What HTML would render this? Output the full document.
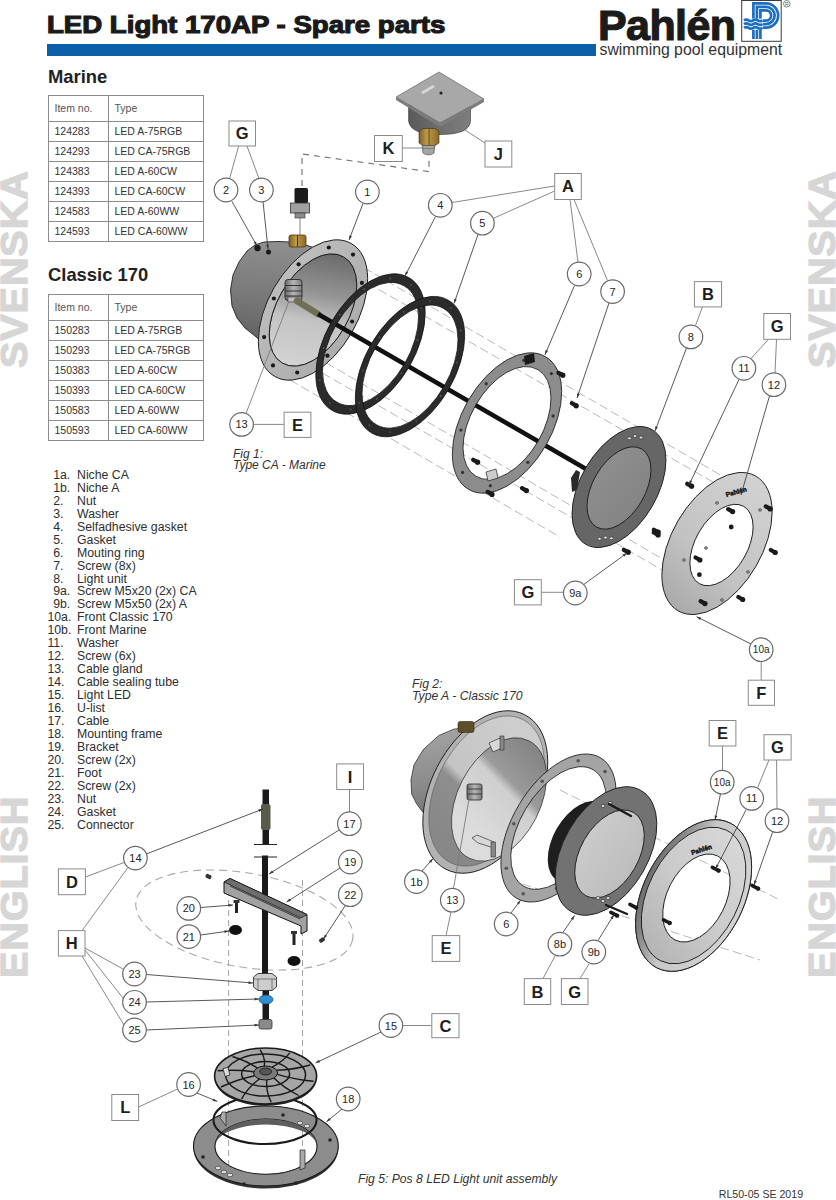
<!DOCTYPE html>
<html><head><meta charset="utf-8">
<style>
html,body{margin:0;padding:0;background:#fff;}
body{width:836px;height:1200px;position:relative;overflow:hidden;font-family:"Liberation Sans",sans-serif;color:#2a2a2a;}
.a{position:absolute;white-space:nowrap;}
#title{left:46.5px;top:9.8px;font-size:23px;font-weight:bold;color:#1a1a1a;transform-origin:0 0;transform:scaleX(1.2);-webkit-text-stroke:1.1px #1a1a1a;line-height:30px;}
#bar{left:47px;top:44px;width:549px;height:11.5px;background:#0b60a9;}
#pahlen{left:598px;top:0px;font-size:43px;font-weight:bold;color:#1b1b1b;-webkit-text-stroke:1.2px #1b1b1b;line-height:50px;letter-spacing:-0.6px;}
#swim{left:599.5px;top:39.5px;font-size:15.8px;color:#333;line-height:20px;}
h2{position:absolute;margin:0;font-size:18.4px;font-weight:bold;color:#222;line-height:20px;left:48px;}
table{position:absolute;border-collapse:collapse;left:47.5px;width:156px;}
td{border:1px solid #8c8c8c;font-size:10.5px;color:#333;padding:0 0 0 6px;height:19px;line-height:19px;}
tr.h td{height:25px;color:#555;}
td.c1{width:53px;}
.side{position:absolute;font-weight:bold;font-size:36px;color:#d6d6d6;-webkit-text-stroke:1.3px #d6d6d6;transform-origin:0 0;transform:rotate(-90deg) scaleX(1.1);line-height:40px;letter-spacing:0.8px;}
.li{position:absolute;font-size:12.3px;line-height:13px;color:#2e2e2e;white-space:nowrap;}
.cap{position:absolute;font-size:12px;font-style:italic;color:#333;line-height:12px;white-space:nowrap;}
svg{position:absolute;left:0;top:0;}
</style></head><body>
<div id="title" class="a">LED Light 170AP - Spare parts</div>
<div id="bar" class="a"></div>
<div id="pahlen" class="a">Pahlén</div>
<div id="swim" class="a">swimming pool equipment</div>

<h2 style="top:66.8px">Marine</h2>
<table style="top:95px">
<tr class="h"><td class="c1">Item no.</td><td>Type</td></tr>
<tr><td class="c1">124283</td><td>LED A-75RGB</td></tr>
<tr><td class="c1">124293</td><td>LED CA-75RGB</td></tr>
<tr><td class="c1">124383</td><td>LED A-60CW</td></tr>
<tr><td class="c1">124393</td><td>LED CA-60CW</td></tr>
<tr><td class="c1">124583</td><td>LED A-60WW</td></tr>
<tr><td class="c1">124593</td><td>LED CA-60WW</td></tr>
</table>

<h2 style="top:264.8px">Classic 170</h2>
<table style="top:294px">
<tr class="h"><td class="c1">Item no.</td><td>Type</td></tr>
<tr><td class="c1">150283</td><td>LED A-75RGB</td></tr>
<tr><td class="c1">150293</td><td>LED CA-75RGB</td></tr>
<tr><td class="c1">150383</td><td>LED A-60CW</td></tr>
<tr><td class="c1">150393</td><td>LED CA-60CW</td></tr>
<tr><td class="c1">150583</td><td>LED A-60WW</td></tr>
<tr><td class="c1">150593</td><td>LED CA-60WW</td></tr>
</table>

<div class="side" style="left:-5px;top:367.5px">SVENSKA</div>
<div class="side" style="left:803px;top:367.5px">SVENSKA</div>
<div class="side" style="left:-5px;top:977.5px">ENGLISH</div>
<div class="side" style="left:803px;top:977.5px">ENGLISH</div>

<!--LIST-->
<div class="li" style="left:53.2px;top:468.7px">1a.</div><div class="li" style="left:77px;top:468.7px">Niche CA</div>
<div class="li" style="left:53.2px;top:481.7px">1b.</div><div class="li" style="left:77px;top:481.7px">Niche A</div>
<div class="li" style="left:53.2px;top:494.6px">2.</div><div class="li" style="left:77px;top:494.6px">Nut</div>
<div class="li" style="left:53.2px;top:507.6px">3.</div><div class="li" style="left:77px;top:507.6px">Washer</div>
<div class="li" style="left:53.2px;top:520.6px">4.</div><div class="li" style="left:77px;top:520.6px">Selfadhesive gasket</div>
<div class="li" style="left:53.2px;top:533.5px">5.</div><div class="li" style="left:77px;top:533.5px">Gasket</div>
<div class="li" style="left:53.2px;top:546.5px">6.</div><div class="li" style="left:77px;top:546.5px">Mouting ring</div>
<div class="li" style="left:53.2px;top:559.5px">7.</div><div class="li" style="left:77px;top:559.5px">Screw (8x)</div>
<div class="li" style="left:53.2px;top:572.5px">8.</div><div class="li" style="left:77px;top:572.5px">Light unit</div>
<div class="li" style="left:53.2px;top:585.4px">9a.</div><div class="li" style="left:77px;top:585.4px">Screw M5x20 (2x) CA</div>
<div class="li" style="left:53.2px;top:598.4px">9b.</div><div class="li" style="left:77px;top:598.4px">Screw M5x50 (2x) A</div>
<div class="li" style="left:47.4px;top:611.4px">10a.</div><div class="li" style="left:77px;top:611.4px">Front Classic 170</div>
<div class="li" style="left:47.4px;top:624.3px">10b.</div><div class="li" style="left:77px;top:624.3px">Front Marine</div>
<div class="li" style="left:47.4px;top:637.3px">11.</div><div class="li" style="left:77px;top:637.3px">Washer</div>
<div class="li" style="left:47.4px;top:650.3px">12.</div><div class="li" style="left:77px;top:650.3px">Screw (6x)</div>
<div class="li" style="left:47.4px;top:663.3px">13.</div><div class="li" style="left:77px;top:663.3px">Cable gland</div>
<div class="li" style="left:47.4px;top:676.2px">14.</div><div class="li" style="left:77px;top:676.2px">Cable sealing tube</div>
<div class="li" style="left:47.4px;top:689.2px">15.</div><div class="li" style="left:77px;top:689.2px">Light LED</div>
<div class="li" style="left:47.4px;top:702.2px">16.</div><div class="li" style="left:77px;top:702.2px">U-list</div>
<div class="li" style="left:47.4px;top:715.1px">17.</div><div class="li" style="left:77px;top:715.1px">Cable</div>
<div class="li" style="left:47.4px;top:728.1px">18.</div><div class="li" style="left:77px;top:728.1px">Mounting frame</div>
<div class="li" style="left:47.4px;top:741.1px">19.</div><div class="li" style="left:77px;top:741.1px">Bracket</div>
<div class="li" style="left:47.4px;top:754.0px">20.</div><div class="li" style="left:77px;top:754.0px">Screw (2x)</div>
<div class="li" style="left:47.4px;top:767.0px">21.</div><div class="li" style="left:77px;top:767.0px">Foot</div>
<div class="li" style="left:47.4px;top:780.0px">22.</div><div class="li" style="left:77px;top:780.0px">Screw (2x)</div>
<div class="li" style="left:47.4px;top:792.9px">23.</div><div class="li" style="left:77px;top:792.9px">Nut</div>
<div class="li" style="left:47.4px;top:805.9px">24.</div><div class="li" style="left:77px;top:805.9px">Gasket</div>
<div class="li" style="left:47.4px;top:818.9px">25.</div><div class="li" style="left:77px;top:818.9px">Connector</div>
<!--/LIST-->

<div class="cap" style="left:233px;top:448.6px;line-height:11.8px">Fig 1:<br>Type CA - Marine</div>
<div class="cap" style="left:412px;top:679px;font-size:12.2px;line-height:11.8px">Fig 2:<br>Type A - Classic 170</div>
<div class="cap" style="left:358px;top:1173px;font-size:12.15px">Fig 5: Pos 8 LED Light unit assembly</div>
<div class="a" style="left:718.8px;top:1188.3px;font-size:10.6px;color:#333;">RL50-05 SE 2019</div>

<!--SVG-->
<svg width="836" height="1200" viewBox="0 0 836 1200" font-family="Liberation Sans, sans-serif"><defs>
<linearGradient id="gBody" x1="0.2" y1="0" x2="0.1" y2="1"><stop offset="0" stop-color="#8e8e8e"/><stop offset="0.5" stop-color="#787878"/><stop offset="1" stop-color="#5a5a5a"/></linearGradient>
<linearGradient id="gIn1" x1="0.55" y1="0" x2="0.4" y2="1"><stop offset="0" stop-color="#6e6e6e"/><stop offset="0.35" stop-color="#959595"/><stop offset="0.6" stop-color="#c4c4c4"/><stop offset="1" stop-color="#d2d2d2"/></linearGradient>
<linearGradient id="gFl" x1="0" y1="0" x2="1" y2="1"><stop offset="0" stop-color="#c4c4c4"/><stop offset="1" stop-color="#a6a6a6"/></linearGradient>
<linearGradient id="gFront" x1="0.8" y1="0" x2="0.1" y2="1"><stop offset="0" stop-color="#d2d2d2"/><stop offset="0.6" stop-color="#c2c2c2"/><stop offset="1" stop-color="#a8a8a8"/></linearGradient>
<linearGradient id="gLens" x1="0" y1="0" x2="1" y2="1"><stop offset="0" stop-color="#929292"/><stop offset="1" stop-color="#808080"/></linearGradient>
<linearGradient id="gBrass" x1="0" y1="0" x2="1" y2="0"><stop offset="0" stop-color="#7a6028"/><stop offset="0.4" stop-color="#c09a45"/><stop offset="1" stop-color="#8a6c2c"/></linearGradient>
<linearGradient id="gBody2" x1="0" y1="0" x2="0.2" y2="1"><stop offset="0" stop-color="#a8a8a8"/><stop offset="0.6" stop-color="#8c8c8c"/><stop offset="1" stop-color="#777"/></linearGradient>
<linearGradient id="gIn2" x1="0.85" y1="0.1" x2="0.3" y2="0.8"><stop offset="0" stop-color="#868686"/><stop offset="0.38" stop-color="#9a9a9a"/><stop offset="0.48" stop-color="#cfcfcf"/><stop offset="1" stop-color="#dcdcdc"/></linearGradient><linearGradient id="gFace2" x1="0.75" y1="0.1" x2="0.2" y2="0.85"><stop offset="0" stop-color="#cdcdcd"/><stop offset="0.55" stop-color="#c4c4c4"/><stop offset="0.63" stop-color="#8e8e8e"/><stop offset="1" stop-color="#888"/></linearGradient>
<linearGradient id="gFront2" x1="0.9" y1="0.1" x2="0" y2="0.9"><stop offset="0" stop-color="#d8d8d8"/><stop offset="0.5" stop-color="#cacaca"/><stop offset="1" stop-color="#b0b0b0"/></linearGradient>
<linearGradient id="gLens2" x1="0" y1="0" x2="1" y2="1"><stop offset="0" stop-color="#d0d0d0"/><stop offset="1" stop-color="#b8b8b8"/></linearGradient>
<linearGradient id="gRim" x1="0" y1="0.25" x2="0.8" y2="0.7"><stop offset="0" stop-color="#505050"/><stop offset="0.3" stop-color="#858585"/><stop offset="0.55" stop-color="#c8c8c8"/><stop offset="1" stop-color="#d2d2d2"/></linearGradient>
<linearGradient id="gJbody" x1="0" y1="0" x2="1" y2="0"><stop offset="0" stop-color="#5a5a5a"/><stop offset="0.5" stop-color="#6e6e6e"/><stop offset="1" stop-color="#7e7e7e"/></linearGradient>
<linearGradient id="gGland" x1="0" y1="0" x2="1" y2="0"><stop offset="0" stop-color="#6a6a6a"/><stop offset="0.5" stop-color="#b5b5b5"/><stop offset="1" stop-color="#7a7a7a"/></linearGradient>
</defs>
<line x1="330" y1="248" x2="760" y2="498" stroke="#b0b0b0" stroke-width="0.9" stroke-dasharray="9,4"/>
<line x1="300" y1="360" x2="700" y2="592" stroke="#b0b0b0" stroke-width="0.9" stroke-dasharray="9,4"/>
<line x1="270" y1="330" x2="690" y2="575" stroke="#b0b0b0" stroke-width="0.9" stroke-dasharray="9,4"/>
<line x1="345" y1="270" x2="770" y2="515" stroke="#b0b0b0" stroke-width="0.9" stroke-dasharray="9,4"/>
<line x1="290" y1="380" x2="560" y2="537" stroke="#b0b0b0" stroke-width="0.9" stroke-dasharray="9,4"/>
<path d="M300,243 L290,242 L278,241.5 L264,242 L255,245 L247,251 L239,262 L233,275 L230.5,290 L232,306 L237,318 L245,328 L255,336 L262,342 L300,352 L335,255Z" fill="url(#gBody)" stroke="#222" stroke-width="0.9" stroke-linejoin="round"/>
<path d="M343.66,256.90 A35.56,61.32 30 1,0 282.34,363.10 A35.56,61.32 30 1,0 343.66,256.90Z" fill="url(#gIn1)" stroke="#333" stroke-width="0.8" />
<path d="M351.32,243.62 A44.45,76.65 30 1,0 274.68,376.38 A44.45,76.65 30 1,0 351.32,243.62Z M343.66,256.90 A35.56,61.32 30 1,0 282.34,363.10 A35.56,61.32 30 1,0 343.66,256.90Z" fill="url(#gFl)" fill-rule="evenodd" stroke="#1e1e1e" stroke-width="1" />
<circle cx="353.0" cy="254.6" r="2.1" fill="#1a1a1a"/>
<circle cx="361.9" cy="282.9" r="2.1" fill="#1a1a1a"/>
<circle cx="352.1" cy="321.5" r="2.1" fill="#1a1a1a"/>
<circle cx="327.4" cy="355.7" r="2.1" fill="#1a1a1a"/>
<circle cx="297.2" cy="372.5" r="2.1" fill="#1a1a1a"/>
<circle cx="273.0" cy="365.4" r="2.1" fill="#1a1a1a"/>
<circle cx="264.1" cy="337.1" r="2.1" fill="#1a1a1a"/>
<circle cx="273.9" cy="298.5" r="2.1" fill="#1a1a1a"/>
<circle cx="298.6" cy="264.3" r="2.1" fill="#1a1a1a"/>
<circle cx="328.8" cy="247.5" r="2.1" fill="#1a1a1a"/>
<rect x="289" y="235" width="17" height="12" rx="2" fill="url(#gBrass)" stroke="#4a3a10" stroke-width="0.8"/>
<line x1="297.5" y1="235" x2="297.5" y2="247" stroke="#4a3a10" stroke-width="1"/>
<rect x="294.5" y="188" width="13.5" height="15" rx="1.5" fill="#1c1c1c"/>
<rect x="290.5" y="203" width="19" height="10" fill="#a0a0a0" stroke="#333" stroke-width="0.8"/>
<rect x="295" y="213" width="10" height="5" fill="#8a8a8a" stroke="#333" stroke-width="0.6"/>
<line x1="300" y1="218" x2="300" y2="235" stroke="#666" stroke-width="0.8" />
<circle cx="257.5" cy="248.0" r="3.2" fill="#1a1a1a"/>
<circle cx="268.5" cy="252.0" r="2.5" fill="#1a1a1a"/>
<rect x="285" y="279.5" width="17" height="21" rx="3" fill="url(#gGland)" stroke="#2a2a2a" stroke-width="0.9"/>
<path d="M285,285.5 H302 M285,291 H302 M285,296 H302" stroke="#333" stroke-width="1.1"/>
<rect x="288" y="297" width="10" height="5" fill="#bdbdbd" stroke="#333" stroke-width="0.6"/>
<line x1="297" y1="301" x2="318" y2="314" stroke="#6f6f55" stroke-width="6.5" stroke-linecap="round"/>
<line x1="318" y1="314" x2="586" y2="469" stroke="#111" stroke-width="4.5"/>
<path d="M408.82,277.62 A44.45,76.65 30 1,0 332.18,410.38 A44.45,76.65 30 1,0 408.82,277.62Z M404.07,285.85 A38.94,67.15 30 1,0 336.93,402.15 A38.94,67.15 30 1,0 404.07,285.85Z" fill="#2b2b2b" fill-rule="evenodd" stroke="#111" stroke-width="0.8" />
<path d="M448.32,300.22 A44.45,76.65 30 1,0 371.68,432.98 A44.45,76.65 30 1,0 448.32,300.22Z M443.57,308.45 A38.94,67.15 30 1,0 376.43,424.75 A38.94,67.15 30 1,0 443.57,308.45Z" fill="#2b2b2b" fill-rule="evenodd" stroke="#111" stroke-width="0.8" />
<circle cx="411.1" cy="285.2" r="0.9" fill="#5a5a5a"/>
<circle cx="421.1" cy="307.8" r="0.9" fill="#5a5a5a"/>
<circle cx="417.4" cy="340.0" r="0.9" fill="#5a5a5a"/>
<circle cx="401.3" cy="373.3" r="0.9" fill="#5a5a5a"/>
<circle cx="376.8" cy="398.8" r="0.9" fill="#5a5a5a"/>
<circle cx="350.7" cy="409.5" r="0.9" fill="#5a5a5a"/>
<circle cx="329.9" cy="402.8" r="0.9" fill="#5a5a5a"/>
<circle cx="319.9" cy="380.2" r="0.9" fill="#5a5a5a"/>
<circle cx="323.6" cy="348.0" r="0.9" fill="#5a5a5a"/>
<circle cx="339.7" cy="314.7" r="0.9" fill="#5a5a5a"/>
<circle cx="364.2" cy="289.2" r="0.9" fill="#5a5a5a"/>
<circle cx="390.3" cy="278.5" r="0.9" fill="#5a5a5a"/>
<circle cx="450.6" cy="307.8" r="0.9" fill="#5a5a5a"/>
<circle cx="460.6" cy="330.4" r="0.9" fill="#5a5a5a"/>
<circle cx="456.9" cy="362.6" r="0.9" fill="#5a5a5a"/>
<circle cx="440.8" cy="395.9" r="0.9" fill="#5a5a5a"/>
<circle cx="416.3" cy="421.4" r="0.9" fill="#5a5a5a"/>
<circle cx="390.2" cy="432.1" r="0.9" fill="#5a5a5a"/>
<circle cx="369.4" cy="425.4" r="0.9" fill="#5a5a5a"/>
<circle cx="359.4" cy="402.8" r="0.9" fill="#5a5a5a"/>
<circle cx="363.1" cy="370.6" r="0.9" fill="#5a5a5a"/>
<circle cx="379.2" cy="337.3" r="0.9" fill="#5a5a5a"/>
<circle cx="403.7" cy="311.8" r="0.9" fill="#5a5a5a"/>
<circle cx="429.8" cy="301.1" r="0.9" fill="#5a5a5a"/>
<path d="M545.32,356.62 A44.45,76.65 30 1,0 468.68,489.38 A44.45,76.65 30 1,0 545.32,356.62Z M537.82,369.61 A35.75,61.65 30 1,0 476.18,476.39 A35.75,61.65 30 1,0 537.82,369.61Z" fill="#8c8c8c" fill-rule="evenodd" stroke="#222" stroke-width="0.9" />
<circle cx="551.4" cy="373.6" r="1.6" fill="#333"/>
<circle cx="553.1" cy="415.9" r="1.6" fill="#333"/>
<circle cx="527.8" cy="462.3" r="1.6" fill="#333"/>
<circle cx="490.3" cy="485.7" r="1.6" fill="#333"/>
<circle cx="462.6" cy="472.4" r="1.6" fill="#333"/>
<circle cx="460.9" cy="430.1" r="1.6" fill="#333"/>
<circle cx="486.2" cy="383.7" r="1.6" fill="#333"/>
<circle cx="523.7" cy="360.3" r="1.6" fill="#333"/>
<path d="M652.12,429.63 A38.42,66.24 30 1,0 585.88,544.37 A38.42,66.24 30 1,0 652.12,429.63Z" fill="#666" stroke="#222" stroke-width="1" />
<path d="M641.56,448.93 A26.16,45.11 30 1,0 596.44,527.07 A26.16,45.11 30 1,0 641.56,448.93Z" fill="url(#gLens)" stroke="#222" stroke-width="1" />
<ellipse cx="629.4" cy="438.3" rx="1.9" ry="1.5" fill="#ddd" stroke="#222" stroke-width="0.6"/>
<ellipse cx="635" cy="436" rx="1.9" ry="1.5" fill="#ddd" stroke="#222" stroke-width="0.6"/>
<ellipse cx="641" cy="437.5" rx="1.9" ry="1.5" fill="#ddd" stroke="#222" stroke-width="0.6"/>
<ellipse cx="599.5" cy="538.8" rx="1.9" ry="1.5" fill="#ddd" stroke="#222" stroke-width="0.6"/>
<ellipse cx="605.5" cy="537.6" rx="1.9" ry="1.5" fill="#ddd" stroke="#222" stroke-width="0.6"/>
<ellipse cx="611.4" cy="538.3" rx="1.9" ry="1.5" fill="#ddd" stroke="#222" stroke-width="0.6"/>
<path d="M571,478 L576,470 L580,472 L577,490 L572,492 Z" fill="#2a2a2a"/>
<path d="M755.87,476.17 A45.09,77.74 30 1,0 678.13,610.83 A45.09,77.74 30 1,0 755.87,476.17Z M743.78,506.41 A25.85,44.56 30 1,0 699.22,583.59 A25.85,44.56 30 1,0 743.78,506.41Z" fill="url(#gFront)" fill-rule="evenodd" stroke="#222" stroke-width="1" />
<ellipse cx="717" cy="503" rx="1.6" ry="1.4" fill="#888" stroke="#444" stroke-width="0.5"/>
<ellipse cx="760" cy="510" rx="1.6" ry="1.4" fill="#888" stroke="#444" stroke-width="0.5"/>
<ellipse cx="706" cy="548" rx="1.6" ry="1.4" fill="#888" stroke="#444" stroke-width="0.5"/>
<ellipse cx="684" cy="560" rx="1.6" ry="1.4" fill="#888" stroke="#444" stroke-width="0.5"/>
<ellipse cx="748" cy="572" rx="1.6" ry="1.4" fill="#888" stroke="#444" stroke-width="0.5"/>
<ellipse cx="722" cy="600" rx="1.6" ry="1.4" fill="#888" stroke="#444" stroke-width="0.5"/>
<text x="0" y="0" font-size="6.5" font-weight="bold" fill="#1a1a1a" transform="translate(726.5,497) rotate(-16)" stroke="#1a1a1a" stroke-width="0.5">Pahlén</text>
<line x1="558.4" y1="372.8" x2="562.8" y2="375.2" stroke="#1a1a1a" stroke-width="4.2" stroke-linecap="round"/>
<circle cx="562.8" cy="375.2" r="2.6" fill="#1a1a1a"/>
<line x1="571.8" y1="403.2" x2="576.2" y2="405.8" stroke="#1a1a1a" stroke-width="4.2" stroke-linecap="round"/>
<circle cx="576.2" cy="405.8" r="2.6" fill="#1a1a1a"/>
<line x1="473.2" y1="459.8" x2="477.6" y2="462.2" stroke="#1a1a1a" stroke-width="4.2" stroke-linecap="round"/>
<circle cx="477.6" cy="462.2" r="2.6" fill="#1a1a1a"/>
<line x1="522.0" y1="488.1" x2="526.4" y2="490.6" stroke="#1a1a1a" stroke-width="4.2" stroke-linecap="round"/>
<circle cx="526.4" cy="490.6" r="2.6" fill="#1a1a1a"/>
<line x1="487.6" y1="491.9" x2="492.0" y2="494.4" stroke="#1a1a1a" stroke-width="4.2" stroke-linecap="round"/>
<circle cx="492.0" cy="494.4" r="2.6" fill="#1a1a1a"/>
<line x1="623.8" y1="549.8" x2="628.2" y2="552.2" stroke="#1a1a1a" stroke-width="4.2" stroke-linecap="round"/>
<circle cx="628.2" cy="552.2" r="2.6" fill="#1a1a1a"/>
<line x1="653.8" y1="529.8" x2="658.2" y2="532.2" stroke="#1a1a1a" stroke-width="4.2" stroke-linecap="round"/>
<circle cx="658.2" cy="532.2" r="2.6" fill="#1a1a1a"/>
<line x1="687.2" y1="483.8" x2="691.6" y2="486.2" stroke="#1a1a1a" stroke-width="4.2" stroke-linecap="round"/>
<circle cx="691.6" cy="486.2" r="2.6" fill="#1a1a1a"/>
<line x1="728.2" y1="509.1" x2="732.6" y2="511.6" stroke="#1a1a1a" stroke-width="4.2" stroke-linecap="round"/>
<circle cx="732.6" cy="511.6" r="2.6" fill="#1a1a1a"/>
<line x1="765.8" y1="506.4" x2="770.2" y2="508.9" stroke="#1a1a1a" stroke-width="4.2" stroke-linecap="round"/>
<circle cx="770.2" cy="508.9" r="2.6" fill="#1a1a1a"/>
<line x1="770.8" y1="550.0" x2="775.2" y2="552.5" stroke="#1a1a1a" stroke-width="4.2" stroke-linecap="round"/>
<circle cx="775.2" cy="552.5" r="2.6" fill="#1a1a1a"/>
<line x1="695.5" y1="557.5" x2="699.9" y2="560.0" stroke="#1a1a1a" stroke-width="4.2" stroke-linecap="round"/>
<circle cx="699.9" cy="560.0" r="2.6" fill="#1a1a1a"/>
<line x1="700.6" y1="601.1" x2="705.0" y2="603.6" stroke="#1a1a1a" stroke-width="4.2" stroke-linecap="round"/>
<circle cx="705.0" cy="603.6" r="2.6" fill="#1a1a1a"/>
<line x1="738.3" y1="597.0" x2="742.7" y2="599.5" stroke="#1a1a1a" stroke-width="4.2" stroke-linecap="round"/>
<circle cx="742.7" cy="599.5" r="2.6" fill="#1a1a1a"/>
<line x1="653.7" y1="532.5" x2="658.1" y2="535.0" stroke="#1a1a1a" stroke-width="4.2" stroke-linecap="round"/>
<circle cx="658.1" cy="535.0" r="2.6" fill="#1a1a1a"/>
<circle cx="731.2" cy="527.0" r="2.4" fill="#1a1a1a"/>
<circle cx="699.4" cy="574.7" r="2.4" fill="#1a1a1a"/>
<path d="M524,356 L534,353 L535,362 L525,365 Z" fill="#1a1a1a"/>
<path d="M486,472 L496,469 L498,478 L488,481 Z" fill="#ccc" stroke="#222" stroke-width="0.7"/>
<path d="M408.6,104 L408.6,121 Q410,134.5 440,134.5 Q470,134.5 470.5,121 L470.5,104 Z" fill="url(#gJbody)" stroke="#333" stroke-width="0.6"/>
<path d="M396,97 L439,72 L484,99 L440,123 Z" fill="#a8a8a8" stroke="#555" stroke-width="0.6"/>
<path d="M396,97 L440,123 L484,99 L484,102 L440,127 L396,100 Z" fill="#7c7c7c"/>
<path d="M421,92 L433,85 L435,87 L423,94 Z" fill="#d8d8d8"/>
<circle cx="441.0" cy="93.0" r="1.6" fill="#222"/>
<path d="M419,131 L423,128.5 L435,128.5 L439,131 L439,143 L435,145.5 L423,145.5 L419,143 Z" fill="url(#gBrass)" stroke="#3a2a10" stroke-width="0.6"/>
<line x1="429" y1="129" x2="429" y2="145" stroke="#4a3a18" stroke-width="0.8"/>
<path d="M422,145.5 L435,145.5 L434,153 Q428.5,157 423,153 Z" fill="#a4a4a4" stroke="#444" stroke-width="0.6"/>
<line x1="422.5" y1="148.5" x2="434.5" y2="148.5" stroke="#666" stroke-width="0.6"/>
<path d="M302,186 L302,154 L429,171.6 L429,156" fill="none" stroke="#777" stroke-width="1.2" stroke-dasharray="6,5"/>
<line x1="560" y1="790" x2="780" y2="900" stroke="#b0b0b0" stroke-width="0.9" stroke-dasharray="9,4"/>
<line x1="510" y1="880" x2="760" y2="960" stroke="#b0b0b0" stroke-width="0.9" stroke-dasharray="9,4"/>
<path d="M470,727 L453.6,729.2 L438.5,735.7 L423.3,749.6 L414,764.8 L411,780 L411.7,794 L416.3,803.3 L422.2,811.5 L430,818 L470,800 L490,735Z" fill="url(#gBody2)" stroke="#333" stroke-width="0.8" stroke-linejoin="round"/>
<path d="M524.65,714.76 A53.75,86.69 27 1,0 445.95,869.24 A53.75,86.69 27 1,0 524.65,714.76Z" fill="#b2b2b2" stroke="#222" stroke-width="1" />
<path d="M522.90,719.55 A49.72,80.19 27 1,0 450.10,862.45 A49.72,80.19 27 1,0 522.90,719.55Z" fill="url(#gFace2)" stroke="#555" stroke-width="0.6" />
<path d="M528.88,740.86 A40.81,65.82 27 1,0 469.12,858.14 A40.81,65.82 27 1,0 528.88,740.86Z" fill="url(#gIn2)" stroke="#333" stroke-width="0.8" />
<rect x="458" y="721.5" width="16" height="11" rx="2" fill="#5e4e2a" stroke="#3a2a10" stroke-width="0.6"/>
<rect x="467" y="784" width="15" height="16" rx="2" fill="url(#gGland)" stroke="#2a2a2a" stroke-width="0.8"/>
<line x1="467" y1="789" x2="482" y2="789" stroke="#333" stroke-width="0.9"/><line x1="467" y1="794" x2="482" y2="794" stroke="#333" stroke-width="0.9"/>
<path d="M489,743 L500,738 L502,748 L493,752 Z" fill="#d8d8d8" stroke="#333" stroke-width="0.7"/><rect x="500" y="736" width="4" height="14" fill="#888" stroke="#333" stroke-width="0.6"/>
<path d="M472,838 L477,835 L494,842 L494,848 L478,843 Z" fill="#d8d8d8" stroke="#333" stroke-width="0.7"/><rect x="491" y="842" width="4.5" height="15" fill="#888" stroke="#333" stroke-width="0.6"/>
<path d="M600.64,757.86 A45.82,81.82 31 1,0 516.36,898.14 A45.82,81.82 31 1,0 600.64,757.86Z M593.43,769.86 A37.98,67.82 31 1,0 523.57,886.14 A37.98,67.82 31 1,0 593.43,769.86Z" fill="#a4a4a4" fill-rule="evenodd" stroke="#222" stroke-width="0.9" />
<circle cx="605.0" cy="771.6" r="1.8" fill="#555"/>
<circle cx="610.0" cy="808.9" r="1.8" fill="#555"/>
<circle cx="590.9" cy="855.1" r="1.8" fill="#555"/>
<circle cx="556.6" cy="888.6" r="1.8" fill="#555"/>
<circle cx="523.2" cy="893.8" r="1.8" fill="#555"/>
<circle cx="506.3" cy="868.2" r="1.8" fill="#555"/>
<circle cx="513.8" cy="823.8" r="1.8" fill="#555"/>
<circle cx="542.2" cy="781.3" r="1.8" fill="#555"/>
<circle cx="578.2" cy="760.8" r="1.8" fill="#555"/>
<path d="M602.37,803.26 A26.84,44.73 30 1,0 557.63,880.74 A26.84,44.73 30 1,0 602.37,803.26Z" fill="#1e1e1e" stroke="none" stroke-width="0.8" />
<path d="M640.91,790.53 A41.90,69.83 30 1,0 571.09,911.47 A41.90,69.83 30 1,0 640.91,790.53Z" fill="#727272" stroke="#222" stroke-width="1" />
<path d="M633.50,812.42 A28.80,48.01 30 1,0 585.50,895.58 A28.80,48.01 30 1,0 633.50,812.42Z" fill="url(#gLens2)" stroke="#222" stroke-width="1" />
<ellipse cx="603" cy="806" rx="1.9" ry="1.6" fill="#ddd" stroke="#222" stroke-width="0.6"/>
<ellipse cx="610" cy="803" rx="1.9" ry="1.6" fill="#ddd" stroke="#222" stroke-width="0.6"/>
<ellipse cx="598" cy="898" rx="1.9" ry="1.6" fill="#ddd" stroke="#222" stroke-width="0.6"/>
<ellipse cx="603" cy="901" rx="1.9" ry="1.6" fill="#ddd" stroke="#222" stroke-width="0.6"/>
<ellipse cx="608" cy="898" rx="1.9" ry="1.6" fill="#ddd" stroke="#222" stroke-width="0.6"/>
<line x1="609" y1="804" x2="631" y2="816" stroke="#1a1a1a" stroke-width="2.4" stroke-linecap="round"/>
<line x1="606" y1="905" x2="627" y2="914" stroke="#1a1a1a" stroke-width="2.4" stroke-linecap="round"/>
<path d="M730.43,823.22 A50.29,81.12 27 1,0 656.77,967.78 A50.29,81.12 27 1,0 730.43,823.22Z M717.78,856.04 A29.19,47.09 27 1,0 675.02,939.96 A29.19,47.09 27 1,0 717.78,856.04Z" fill="url(#gFront2)" fill-rule="evenodd" stroke="#222" stroke-width="1" />
<path d="M730.43,823.22 A50.29,81.12 27 1,0 656.77,967.78 A50.29,81.12 27 1,0 730.43,823.22Z M726.80,830.35 A45.33,73.12 27 1,0 660.40,960.65 A45.33,73.12 27 1,0 726.80,830.35Z" fill="url(#gRim)" fill-rule="evenodd" stroke="#222" stroke-width="1" />
<text x="0" y="0" font-size="6.5" font-weight="bold" fill="#1a1a1a" transform="translate(692,855) rotate(-18)" stroke="#1a1a1a" stroke-width="0.5">Pahlén</text>
<line x1="712.4" y1="867.4" x2="718.6" y2="870.6" stroke="#1a1a1a" stroke-width="3.6" stroke-linecap="round"/>
<circle cx="718.6" cy="870.6" r="2.2" fill="#1a1a1a"/>
<line x1="751.9" y1="885.4" x2="758.1" y2="888.6" stroke="#1a1a1a" stroke-width="3.6" stroke-linecap="round"/>
<circle cx="758.1" cy="888.6" r="2.2" fill="#1a1a1a"/>
<line x1="663.5" y1="919.8" x2="669.7" y2="923.0" stroke="#1a1a1a" stroke-width="3.6" stroke-linecap="round"/>
<circle cx="669.7" cy="923.0" r="2.2" fill="#1a1a1a"/>
<line x1="629.9" y1="904.4" x2="636.1" y2="907.6" stroke="#1a1a1a" stroke-width="3.6" stroke-linecap="round"/>
<circle cx="636.1" cy="907.6" r="2.2" fill="#1a1a1a"/>
<line x1="610.9" y1="912.4" x2="617.1" y2="915.6" stroke="#1a1a1a" stroke-width="3.6" stroke-linecap="round"/>
<circle cx="617.1" cy="915.6" r="2.2" fill="#1a1a1a"/>
<ellipse cx="244.4" cy="920" rx="110" ry="47" transform="rotate(10 244.4 920)" fill="none" stroke="#a8a8a8" stroke-width="1.1" stroke-dasharray="8,5"/>
<line x1="228.6" y1="880" x2="228.6" y2="1165" stroke="#9a9a9a" stroke-width="0.9" stroke-dasharray="6,4"/>
<line x1="302.5" y1="880" x2="302.5" y2="1165" stroke="#9a9a9a" stroke-width="0.9" stroke-dasharray="6,4"/>
<rect x="262.5" y="789.5" width="6.5" height="55" fill="#1a1a1a"/>
<rect x="261" y="804" width="9.5" height="26" rx="2" fill="#5a5a4c"/>
<rect x="262" y="855.5" width="6" height="120" fill="#1a1a1a"/>
<line x1="254" y1="844.5" x2="277" y2="844.5" stroke="#222" stroke-width="1" />
<line x1="254" y1="857" x2="277" y2="857" stroke="#222" stroke-width="1" />
<path d="M224,882 L230,878.5 L307,914.5 L307,931 L301,934 L301,926 L224,893 Z" fill="#a2a2a2" stroke="#111" stroke-width="1"/>
<path d="M230,878.5 L307,914.5 L301,918 L224,882 Z" fill="#6e6e6e" stroke="#111" stroke-width="0.7"/>
<path d="M230,886 L300,919" stroke="#222" stroke-width="0.8"/>
<rect x="235" y="901" width="3" height="12" fill="#222"/><rect x="233.5" y="900" width="6" height="3" fill="#333"/>
<ellipse cx="235.5" cy="930" rx="6.5" ry="5" fill="#111"/>
<rect x="292.5" y="932" width="3" height="13" fill="#222"/><rect x="291" y="931" width="6" height="3" fill="#333"/>
<ellipse cx="294" cy="961" rx="6.5" ry="5" fill="#111"/>
<rect x="205.5" y="874.5" width="6" height="4" rx="1.5" transform="rotate(25 208.5 876.5)" fill="#333"/>
<rect x="319" y="938" width="6" height="4" rx="1.5" transform="rotate(-35 322 940)" fill="#333"/>
<path d="M253.5,977 L258,973.5 L272,973.5 L276.5,977 L276.5,987 L272,990.5 L258,990.5 L253.5,987 Z" fill="#cdcdcd" stroke="#333" stroke-width="0.9"/>
<path d="M258,979 L258,990 M272,979 L272,990 M253.5,979 L276.5,979" stroke="#555" stroke-width="0.7"/>
<rect x="262.5" y="990.5" width="6.5" height="30" fill="#1a1a1a"/>
<ellipse cx="266" cy="999.5" rx="7" ry="4.5" fill="#2f8fd0" stroke="#1a4a70" stroke-width="0.7"/>
<rect x="259" y="1019.5" width="13" height="9.5" rx="2" fill="#8a8a8a" stroke="#333" stroke-width="0.8"/>
<path d="M193.5,1148.5 a72.4,40 0 1,0 144.8,0 a72.4,40 0 1,0 -144.8,0 Z M215,1146.6 a51,27.6 0 1,0 102,0 a51,27.6 0 1,0 -102,0 Z" fill="#333" fill-rule="evenodd"/>
<path d="M193.5,1146 a72.4,40 0 1,0 144.8,0 a72.4,40 0 1,0 -144.8,0 Z M215,1146.6 a51,27.6 0 1,0 102,0 a51,27.6 0 1,0 -102,0 Z" fill="#8c8c8c" fill-rule="evenodd" stroke="#1a1a1a" stroke-width="1.1"/>
<path d="M215,1146.6 a51,27.6 0 0,1 102,0 a51,22 0 0,0 -102,0 Z" fill="#5e5e5e"/>
<circle cx="203.0" cy="1157.0" r="1.8" fill="#222"/>
<circle cx="330.0" cy="1140.0" r="1.8" fill="#222"/>
<circle cx="283.0" cy="1115.0" r="1.8" fill="#222"/>
<circle cx="244.0" cy="1184.0" r="1.8" fill="#222"/>
<circle cx="296.0" cy="1183.0" r="1.8" fill="#222"/>
<ellipse cx="218" cy="1168" rx="2.8" ry="1.8" fill="#ddd" stroke="#333" stroke-width="0.6"/>
<ellipse cx="224" cy="1172" rx="2.8" ry="1.8" fill="#ddd" stroke="#333" stroke-width="0.6"/>
<ellipse cx="230" cy="1175" rx="2.8" ry="1.8" fill="#ddd" stroke="#333" stroke-width="0.6"/>
<ellipse cx="300" cy="1123" rx="2.8" ry="1.8" fill="#ddd" stroke="#333" stroke-width="0.6"/>
<ellipse cx="307" cy="1126" rx="2.8" ry="1.8" fill="#ddd" stroke="#333" stroke-width="0.6"/>
<path d="M220,1118 L222,1112 L226,1112 L226,1126 Z" fill="#aaa" stroke="#222" stroke-width="0.7"/>
<path d="M300,1160 L300,1150 L305,1150 L305,1168 L300,1170 Z" fill="#aaa" stroke="#222" stroke-width="0.7"/>
<ellipse cx="265" cy="1120" rx="51.5" ry="24" fill="none" stroke="#1a1a1a" stroke-width="2"/>
<ellipse cx="265.6" cy="1078" rx="51" ry="28" fill="#2a2a2a"/>
<ellipse cx="265.6" cy="1076" rx="51" ry="28" fill="#a6a6a6" stroke="#1a1a1a" stroke-width="1.6"/>
<g fill="none" stroke="#1a1a1a" stroke-width="1.5"><ellipse cx="265.6" cy="1075" rx="40" ry="21"/><ellipse cx="265.6" cy="1074" rx="24" ry="12.5"/></g>
<path d="M277.4,1074.3Q294.1,1079.5 313.6,1081.3M273.7,1077.8Q283.1,1087.5 298.7,1095.5M267.0,1079.5Q265.4,1090.5 271.2,1102.3M259.7,1078.7Q247.8,1087.4 241.5,1099.1M254.7,1075.7Q237.0,1079.4 221.0,1087.0M253.8,1071.7Q237.1,1069.5 217.6,1070.7M257.5,1068.2Q248.1,1061.5 232.5,1056.5M264.2,1066.5Q265.8,1058.5 260.0,1049.7M271.5,1067.3Q283.4,1061.6 289.7,1052.9M276.5,1070.3Q294.2,1069.6 310.2,1065.0" fill="none" stroke="#1a1a1a" stroke-width="1.4"/>
<ellipse cx="265.6" cy="1073" rx="12" ry="7" fill="#7a7a7a" stroke="#111" stroke-width="1"/>
<ellipse cx="265.6" cy="1071.5" rx="6" ry="3.5" fill="#555" stroke="#111" stroke-width="0.8"/>
<rect x="224" y="1068" width="5" height="8" fill="#ddd" stroke="#222" stroke-width="0.7" transform="rotate(-15 226 1072)"/>
<line x1="238.7" y1="146" x2="229.6" y2="178.5" stroke="#7a7a7a" stroke-width="0.9" />
<line x1="247" y1="146" x2="259" y2="178.5" stroke="#7a7a7a" stroke-width="0.9" />
<line x1="232" y1="201.5" x2="257" y2="246" stroke="#3a3a3a" stroke-width="0.85"/>
<path d="M257.0,246.0 L253.6,242.8 L256.0,241.4Z" fill="#3a3a3a"/>
<line x1="263" y1="201.5" x2="268" y2="249" stroke="#3a3a3a" stroke-width="0.85"/>
<path d="M268.0,249.0 L266.1,244.7 L268.9,244.4Z" fill="#3a3a3a"/>
<line x1="363" y1="203.5" x2="349" y2="240" stroke="#3a3a3a" stroke-width="0.85"/>
<path d="M349.0,240.0 L349.3,235.3 L351.9,236.3Z" fill="#3a3a3a"/>
<line x1="402.3" y1="148" x2="424" y2="148" stroke="#7a7a7a" stroke-width="0.9" />
<line x1="485" y1="143" x2="465" y2="130" stroke="#7a7a7a" stroke-width="0.9" />
<line x1="554.7" y1="186" x2="452" y2="202.5" stroke="#7a7a7a" stroke-width="0.9" />
<line x1="554.7" y1="191" x2="493" y2="218.5" stroke="#7a7a7a" stroke-width="0.9" />
<line x1="570" y1="199.5" x2="578" y2="262.2" stroke="#7a7a7a" stroke-width="0.9" />
<line x1="574" y1="199.5" x2="607.5" y2="280.5" stroke="#7a7a7a" stroke-width="0.9" />
<line x1="435.5" y1="216.5" x2="405" y2="276" stroke="#3a3a3a" stroke-width="0.85"/>
<path d="M405.0,276.0 L405.8,271.4 L408.3,272.6Z" fill="#3a3a3a"/>
<line x1="478" y1="234.5" x2="454" y2="303.5" stroke="#3a3a3a" stroke-width="0.85"/>
<path d="M454.0,303.5 L454.2,298.8 L456.8,299.7Z" fill="#3a3a3a"/>
<line x1="574.5" y1="285.5" x2="545" y2="354.7" stroke="#3a3a3a" stroke-width="0.85"/>
<path d="M545.0,354.7 L545.5,350.0 L548.1,351.1Z" fill="#3a3a3a"/>
<line x1="609" y1="303" x2="577" y2="398" stroke="#3a3a3a" stroke-width="0.85"/>
<path d="M577.0,398.0 L577.1,393.3 L579.8,394.2Z" fill="#3a3a3a"/>
<line x1="702.5" y1="306.9" x2="695.5" y2="325.5" stroke="#7a7a7a" stroke-width="0.9" />
<line x1="686.5" y1="348" x2="655" y2="431" stroke="#3a3a3a" stroke-width="0.85"/>
<path d="M655.0,431.0 L655.3,426.3 L657.9,427.3Z" fill="#3a3a3a"/>
<line x1="768.5" y1="339.3" x2="751" y2="358.5" stroke="#7a7a7a" stroke-width="0.9" />
<line x1="776.5" y1="339.3" x2="775" y2="373" stroke="#7a7a7a" stroke-width="0.9" />
<line x1="739" y1="379.5" x2="689" y2="485" stroke="#3a3a3a" stroke-width="0.85"/>
<path d="M689.0,485.0 L689.7,480.3 L692.2,481.5Z" fill="#3a3a3a"/>
<line x1="769.5" y1="396" x2="741" y2="495" stroke="#3a3a3a" stroke-width="0.85"/>
<path d="M741.0,495.0 L740.9,490.3 L743.6,491.1Z" fill="#3a3a3a"/>
<line x1="253.4" y1="424.4" x2="284.1" y2="424.4" stroke="#7a7a7a" stroke-width="0.9" />
<line x1="246" y1="413.5" x2="289" y2="301" stroke="#7a7a7a" stroke-width="0.9" />
<line x1="541.3" y1="592.3" x2="564" y2="592.3" stroke="#7a7a7a" stroke-width="0.9" />
<line x1="583" y1="585" x2="627" y2="553" stroke="#3a3a3a" stroke-width="0.85"/>
<path d="M627.0,553.0 L624.2,556.8 L622.5,554.5Z" fill="#3a3a3a"/>
<line x1="751" y1="644" x2="696.6" y2="616.7" stroke="#3a3a3a" stroke-width="0.85"/>
<path d="M696.6,616.7 L701.2,617.5 L700.0,620.0Z" fill="#3a3a3a"/>
<line x1="761.2" y1="661.5" x2="761.2" y2="680.2" stroke="#7a7a7a" stroke-width="0.9" />
<line x1="722.5" y1="746" x2="722.5" y2="770.4" stroke="#7a7a7a" stroke-width="0.9" />
<line x1="720.5" y1="794" x2="715" y2="820" stroke="#3a3a3a" stroke-width="0.85"/>
<path d="M715.0,820.0 L714.6,815.3 L717.3,815.9Z" fill="#3a3a3a"/>
<line x1="769" y1="760" x2="757.5" y2="787.8" stroke="#7a7a7a" stroke-width="0.9" />
<line x1="776.6" y1="760" x2="777" y2="808.9" stroke="#7a7a7a" stroke-width="0.9" />
<line x1="746" y1="810" x2="715.5" y2="869" stroke="#3a3a3a" stroke-width="0.85"/>
<path d="M715.5,869.0 L716.3,864.4 L718.8,865.6Z" fill="#3a3a3a"/>
<line x1="772.5" y1="832.3" x2="754" y2="885" stroke="#3a3a3a" stroke-width="0.85"/>
<path d="M754.0,885.0 L754.2,880.3 L756.8,881.2Z" fill="#3a3a3a"/>
<line x1="422" y1="871" x2="433" y2="858.6" stroke="#3a3a3a" stroke-width="0.85"/>
<path d="M433.0,858.6 L431.1,862.9 L429.0,861.0Z" fill="#3a3a3a"/>
<line x1="453.5" y1="888.4" x2="469" y2="799" stroke="#7a7a7a" stroke-width="0.9" />
<line x1="511" y1="913" x2="520.6" y2="900.2" stroke="#3a3a3a" stroke-width="0.85"/>
<path d="M520.6,900.2 L519.0,904.6 L516.8,903.0Z" fill="#3a3a3a"/>
<line x1="563" y1="932.4" x2="574.6" y2="915.5" stroke="#3a3a3a" stroke-width="0.85"/>
<path d="M574.6,915.5 L573.2,920.0 L570.9,918.4Z" fill="#3a3a3a"/>
<line x1="598" y1="940.5" x2="614" y2="914.6" stroke="#3a3a3a" stroke-width="0.85"/>
<path d="M614.0,914.6 L612.8,919.2 L610.4,917.7Z" fill="#3a3a3a"/>
<line x1="451" y1="912" x2="446" y2="935.6" stroke="#7a7a7a" stroke-width="0.9" />
<line x1="555" y1="956" x2="543" y2="978.6" stroke="#7a7a7a" stroke-width="0.9" />
<line x1="589" y1="964" x2="580" y2="978.6" stroke="#7a7a7a" stroke-width="0.9" />
<line x1="349.5" y1="789.5" x2="349.5" y2="811.9" stroke="#7a7a7a" stroke-width="0.9" />
<line x1="339" y1="830" x2="269" y2="874" stroke="#3a3a3a" stroke-width="0.85"/>
<path d="M269.0,874.0 L272.1,870.4 L273.6,872.8Z" fill="#3a3a3a"/>
<line x1="340" y1="868" x2="286.5" y2="902" stroke="#3a3a3a" stroke-width="0.85"/>
<path d="M286.5,902.0 L289.5,898.4 L291.0,900.8Z" fill="#3a3a3a"/>
<line x1="345" y1="906" x2="323.5" y2="939" stroke="#3a3a3a" stroke-width="0.85"/>
<path d="M323.5,939.0 L324.8,934.5 L327.1,936.0Z" fill="#3a3a3a"/>
<line x1="124" y1="862.5" x2="85.4" y2="877" stroke="#7a7a7a" stroke-width="0.9" />
<line x1="128" y1="867.5" x2="82" y2="930.6" stroke="#7a7a7a" stroke-width="0.9" />
<line x1="147" y1="853.7" x2="263" y2="809" stroke="#3a3a3a" stroke-width="0.85"/>
<path d="M263.0,809.0 L259.3,811.9 L258.3,809.3Z" fill="#3a3a3a"/>
<line x1="200.6" y1="907.5" x2="233" y2="905" stroke="#3a3a3a" stroke-width="0.85"/>
<path d="M233.0,905.0 L228.6,906.7 L228.4,904.0Z" fill="#3a3a3a"/>
<line x1="200.6" y1="935" x2="229" y2="931" stroke="#3a3a3a" stroke-width="0.85"/>
<path d="M229.0,931.0 L224.7,933.0 L224.3,930.2Z" fill="#3a3a3a"/>
<line x1="85" y1="948" x2="123" y2="969" stroke="#7a7a7a" stroke-width="0.9" />
<line x1="85" y1="950" x2="123" y2="998" stroke="#7a7a7a" stroke-width="0.9" />
<line x1="82" y1="956" x2="124" y2="1025" stroke="#7a7a7a" stroke-width="0.9" />
<line x1="146.3" y1="974.5" x2="253" y2="983" stroke="#3a3a3a" stroke-width="0.85"/>
<path d="M253.0,983.0 L248.4,984.0 L248.6,981.2Z" fill="#3a3a3a"/>
<line x1="146.3" y1="1002" x2="259" y2="999" stroke="#3a3a3a" stroke-width="0.85"/>
<path d="M259.0,999.0 L254.5,1000.5 L254.5,997.7Z" fill="#3a3a3a"/>
<line x1="146.3" y1="1030" x2="259" y2="1025" stroke="#3a3a3a" stroke-width="0.85"/>
<path d="M259.0,1025.0 L254.6,1026.6 L254.4,1023.8Z" fill="#3a3a3a"/>
<line x1="402.7" y1="1025.5" x2="431.8" y2="1025.5" stroke="#7a7a7a" stroke-width="0.9" />
<line x1="381" y1="1032" x2="315.5" y2="1063" stroke="#3a3a3a" stroke-width="0.85"/>
<path d="M315.5,1063.0 L319.0,1059.8 L320.2,1062.3Z" fill="#3a3a3a"/>
<line x1="138.6" y1="1107" x2="177.6" y2="1089" stroke="#7a7a7a" stroke-width="0.9" />
<line x1="197" y1="1093" x2="217.3" y2="1101.4" stroke="#3a3a3a" stroke-width="0.85"/>
<path d="M217.3,1101.4 L212.6,1101.0 L213.7,1098.4Z" fill="#3a3a3a"/>
<line x1="342" y1="1109" x2="326.4" y2="1121.8" stroke="#3a3a3a" stroke-width="0.85"/>
<path d="M326.4,1121.8 L329.0,1117.9 L330.8,1120.0Z" fill="#3a3a3a"/>
<circle cx="226" cy="190" r="11.8" fill="#fff" stroke="#6a6a6a" stroke-width="1.2"/><text x="226" y="194.0" font-size="11" text-anchor="middle" fill="#262626">2</text>
<circle cx="261.4" cy="190" r="11.8" fill="#fff" stroke="#6a6a6a" stroke-width="1.2"/><text x="261.4" y="194.0" font-size="11" text-anchor="middle" fill="#262626">3</text>
<circle cx="367.4" cy="192" r="11.8" fill="#fff" stroke="#6a6a6a" stroke-width="1.2"/><text x="367.4" y="196.0" font-size="11" text-anchor="middle" fill="#262626">1</text>
<circle cx="440.3" cy="205.3" r="11.8" fill="#fff" stroke="#6a6a6a" stroke-width="1.2"/><text x="440.3" y="209.3" font-size="11" text-anchor="middle" fill="#262626">4</text>
<circle cx="482.4" cy="223.2" r="11.8" fill="#fff" stroke="#6a6a6a" stroke-width="1.2"/><text x="482.4" y="227.2" font-size="11" text-anchor="middle" fill="#262626">5</text>
<circle cx="579.2" cy="274" r="11.8" fill="#fff" stroke="#6a6a6a" stroke-width="1.2"/><text x="579.2" y="278.0" font-size="11" text-anchor="middle" fill="#262626">6</text>
<circle cx="612.6" cy="291.6" r="11.8" fill="#fff" stroke="#6a6a6a" stroke-width="1.2"/><text x="612.6" y="295.6" font-size="11" text-anchor="middle" fill="#262626">7</text>
<circle cx="690.9" cy="336.9" r="11.8" fill="#fff" stroke="#6a6a6a" stroke-width="1.2"/><text x="690.9" y="340.9" font-size="11" text-anchor="middle" fill="#262626">8</text>
<circle cx="743.9" cy="368.3" r="11.8" fill="#fff" stroke="#6a6a6a" stroke-width="1.2"/><text x="743.9" y="372.3" font-size="11" text-anchor="middle" fill="#262626">11</text>
<circle cx="773.9" cy="384.7" r="11.8" fill="#fff" stroke="#6a6a6a" stroke-width="1.2"/><text x="773.9" y="388.7" font-size="11" text-anchor="middle" fill="#262626">12</text>
<circle cx="241.6" cy="424.4" r="11.8" fill="#fff" stroke="#6a6a6a" stroke-width="1.2"/><text x="241.6" y="428.4" font-size="11" text-anchor="middle" fill="#262626">13</text>
<circle cx="575.3" cy="593" r="11.8" fill="#fff" stroke="#6a6a6a" stroke-width="1.2"/><text x="575.3" y="597.0" font-size="11" text-anchor="middle" fill="#262626">9a</text>
<circle cx="761.2" cy="649.7" r="11.8" fill="#fff" stroke="#6a6a6a" stroke-width="1.2"/><text x="761.2" y="653.3" font-size="10" text-anchor="middle" fill="#262626">10a</text>
<circle cx="722.2" cy="782.2" r="11.8" fill="#fff" stroke="#6a6a6a" stroke-width="1.2"/><text x="722.2" y="785.8" font-size="10" text-anchor="middle" fill="#262626">10a</text>
<circle cx="751.7" cy="798.4" r="11.8" fill="#fff" stroke="#6a6a6a" stroke-width="1.2"/><text x="751.7" y="802.4" font-size="11" text-anchor="middle" fill="#262626">11</text>
<circle cx="777" cy="820.7" r="11.8" fill="#fff" stroke="#6a6a6a" stroke-width="1.2"/><text x="777" y="824.7" font-size="11" text-anchor="middle" fill="#262626">12</text>
<circle cx="416.4" cy="881.6" r="11.8" fill="#fff" stroke="#6a6a6a" stroke-width="1.2"/><text x="416.4" y="885.6" font-size="11" text-anchor="middle" fill="#262626">1b</text>
<circle cx="452.3" cy="900.2" r="11.8" fill="#fff" stroke="#6a6a6a" stroke-width="1.2"/><text x="452.3" y="904.2" font-size="11" text-anchor="middle" fill="#262626">13</text>
<circle cx="506.2" cy="924" r="11.8" fill="#fff" stroke="#6a6a6a" stroke-width="1.2"/><text x="506.2" y="928.0" font-size="11" text-anchor="middle" fill="#262626">6</text>
<circle cx="559.9" cy="944.2" r="11.8" fill="#fff" stroke="#6a6a6a" stroke-width="1.2"/><text x="559.9" y="948.2" font-size="11" text-anchor="middle" fill="#262626">8b</text>
<circle cx="593.8" cy="952" r="11.8" fill="#fff" stroke="#6a6a6a" stroke-width="1.2"/><text x="593.8" y="956.0" font-size="11" text-anchor="middle" fill="#262626">9b</text>
<circle cx="349.4" cy="823.7" r="11.8" fill="#fff" stroke="#6a6a6a" stroke-width="1.2"/><text x="349.4" y="827.7" font-size="11" text-anchor="middle" fill="#262626">17</text>
<circle cx="350.3" cy="862" r="11.8" fill="#fff" stroke="#6a6a6a" stroke-width="1.2"/><text x="350.3" y="866.0" font-size="11" text-anchor="middle" fill="#262626">19</text>
<circle cx="350.3" cy="894.7" r="11.8" fill="#fff" stroke="#6a6a6a" stroke-width="1.2"/><text x="350.3" y="898.7" font-size="11" text-anchor="middle" fill="#262626">22</text>
<circle cx="135.4" cy="858.1" r="11.8" fill="#fff" stroke="#6a6a6a" stroke-width="1.2"/><text x="135.4" y="862.1" font-size="11" text-anchor="middle" fill="#262626">14</text>
<circle cx="188.8" cy="908.4" r="11.8" fill="#fff" stroke="#6a6a6a" stroke-width="1.2"/><text x="188.8" y="912.4" font-size="11" text-anchor="middle" fill="#262626">20</text>
<circle cx="188.8" cy="936.6" r="11.8" fill="#fff" stroke="#6a6a6a" stroke-width="1.2"/><text x="188.8" y="940.6" font-size="11" text-anchor="middle" fill="#262626">21</text>
<circle cx="134.5" cy="974" r="11.8" fill="#fff" stroke="#6a6a6a" stroke-width="1.2"/><text x="134.5" y="978.0" font-size="11" text-anchor="middle" fill="#262626">23</text>
<circle cx="134.5" cy="1002.3" r="11.8" fill="#fff" stroke="#6a6a6a" stroke-width="1.2"/><text x="134.5" y="1006.3" font-size="11" text-anchor="middle" fill="#262626">24</text>
<circle cx="134.5" cy="1030" r="11.8" fill="#fff" stroke="#6a6a6a" stroke-width="1.2"/><text x="134.5" y="1034.0" font-size="11" text-anchor="middle" fill="#262626">25</text>
<circle cx="390.9" cy="1025.5" r="11.8" fill="#fff" stroke="#6a6a6a" stroke-width="1.2"/><text x="390.9" y="1029.5" font-size="11" text-anchor="middle" fill="#262626">15</text>
<circle cx="188.6" cy="1084.5" r="11.8" fill="#fff" stroke="#6a6a6a" stroke-width="1.2"/><text x="188.6" y="1088.5" font-size="11" text-anchor="middle" fill="#262626">16</text>
<circle cx="348.2" cy="1099" r="11.8" fill="#fff" stroke="#6a6a6a" stroke-width="1.2"/><text x="348.2" y="1103.0" font-size="11" text-anchor="middle" fill="#262626">18</text>
<rect x="229" y="121" width="26.5" height="25.0" fill="#fff" stroke="#8a8a8a" stroke-width="1"/><text x="242.2" y="139.4" font-size="16.5" font-weight="bold" text-anchor="middle" fill="#1e1e1e">G</text>
<rect x="374.5" y="135.5" width="27.8" height="26.0" fill="#fff" stroke="#8a8a8a" stroke-width="1"/><text x="388.4" y="154.4" font-size="16.5" font-weight="bold" text-anchor="middle" fill="#1e1e1e">K</text>
<rect x="485" y="141" width="26.8" height="26.0" fill="#fff" stroke="#8a8a8a" stroke-width="1"/><text x="498.4" y="159.9" font-size="16.5" font-weight="bold" text-anchor="middle" fill="#1e1e1e">J</text>
<rect x="554.7" y="173.5" width="26.6" height="26.0" fill="#fff" stroke="#8a8a8a" stroke-width="1"/><text x="568.0" y="192.4" font-size="16.5" font-weight="bold" text-anchor="middle" fill="#1e1e1e">A</text>
<rect x="694.4" y="281.6" width="27.2" height="25.3" fill="#fff" stroke="#8a8a8a" stroke-width="1"/><text x="708.0" y="300.2" font-size="16.5" font-weight="bold" text-anchor="middle" fill="#1e1e1e">B</text>
<rect x="763.8" y="313.5" width="26.7" height="25.8" fill="#fff" stroke="#8a8a8a" stroke-width="1"/><text x="777.1" y="332.3" font-size="16.5" font-weight="bold" text-anchor="middle" fill="#1e1e1e">G</text>
<rect x="284.1" y="412.2" width="26.8" height="25.2" fill="#fff" stroke="#8a8a8a" stroke-width="1"/><text x="297.5" y="430.7" font-size="16.5" font-weight="bold" text-anchor="middle" fill="#1e1e1e">E</text>
<rect x="514.4" y="579.7" width="26.9" height="25.2" fill="#fff" stroke="#8a8a8a" stroke-width="1"/><text x="527.8" y="598.2" font-size="16.5" font-weight="bold" text-anchor="middle" fill="#1e1e1e">G</text>
<rect x="748.3" y="680.2" width="26.2" height="25.1" fill="#fff" stroke="#8a8a8a" stroke-width="1"/><text x="761.4" y="698.7" font-size="16.5" font-weight="bold" text-anchor="middle" fill="#1e1e1e">F</text>
<rect x="709.2" y="720.5" width="26.7" height="25.5" fill="#fff" stroke="#8a8a8a" stroke-width="1"/><text x="722.5" y="739.2" font-size="16.5" font-weight="bold" text-anchor="middle" fill="#1e1e1e">E</text>
<rect x="764" y="734.7" width="27.1" height="25.3" fill="#fff" stroke="#8a8a8a" stroke-width="1"/><text x="777.5" y="753.3" font-size="16.5" font-weight="bold" text-anchor="middle" fill="#1e1e1e">G</text>
<rect x="432.2" y="935.6" width="27.5" height="25.8" fill="#fff" stroke="#8a8a8a" stroke-width="1"/><text x="445.9" y="954.4" font-size="16.5" font-weight="bold" text-anchor="middle" fill="#1e1e1e">E</text>
<rect x="524.3" y="978.6" width="26.4" height="25.9" fill="#fff" stroke="#8a8a8a" stroke-width="1"/><text x="537.5" y="997.5" font-size="16.5" font-weight="bold" text-anchor="middle" fill="#1e1e1e">B</text>
<rect x="561.4" y="978.6" width="26.6" height="25.9" fill="#fff" stroke="#8a8a8a" stroke-width="1"/><text x="574.7" y="997.5" font-size="16.5" font-weight="bold" text-anchor="middle" fill="#1e1e1e">G</text>
<rect x="336.7" y="763.9" width="26.8" height="25.6" fill="#fff" stroke="#8a8a8a" stroke-width="1"/><text x="350.1" y="782.6" font-size="16.5" font-weight="bold" text-anchor="middle" fill="#1e1e1e">I</text>
<rect x="58.4" y="868.9" width="27.0" height="25.8" fill="#fff" stroke="#8a8a8a" stroke-width="1"/><text x="71.9" y="887.7" font-size="16.5" font-weight="bold" text-anchor="middle" fill="#1e1e1e">D</text>
<rect x="58.4" y="930.6" width="26.6" height="25.4" fill="#fff" stroke="#8a8a8a" stroke-width="1"/><text x="71.7" y="949.2" font-size="16.5" font-weight="bold" text-anchor="middle" fill="#1e1e1e">H</text>
<rect x="431.8" y="1013.6" width="27.2" height="24.1" fill="#fff" stroke="#8a8a8a" stroke-width="1"/><text x="445.4" y="1031.6" font-size="16.5" font-weight="bold" text-anchor="middle" fill="#1e1e1e">C</text>
<rect x="111.8" y="1094.5" width="26.8" height="26.0" fill="#fff" stroke="#8a8a8a" stroke-width="1"/><text x="125.2" y="1113.4" font-size="16.5" font-weight="bold" text-anchor="middle" fill="#1e1e1e">L</text>
<rect x="741.7" y="0.5" width="39.5" height="40.8" fill="#fff" stroke="#3a3a3a" stroke-width="1"/>
<g fill="none" stroke="#1c6fc0" stroke-width="2.7">
<path d="M753.4,39 V3.3 H766 A12.15,12.15 0 0 1 766,27.6 H761"/>
<path d="M756.9,39 V6.8 H766 A8.65,8.65 0 0 1 766,24.1 H761"/>
<path d="M760.4,39 V10.3 H766 A5.15,5.15 0 0 1 766,20.6 H761.3"/>
</g>
<rect x="743" y="18.6" width="19.8" height="11.2" fill="#fff"/>
<g fill="none" stroke="#1c6fc0" stroke-width="2.8">
<path d="M744,20.3 q2.3,-1.5 4.6,0 t4.6,0 t4.6,0 t4.6,0"/><path d="M744,24.1 q2.3,-1.5 4.6,0 t4.6,0 t4.6,0 t4.6,0"/><path d="M744,27.9 q2.3,-1.5 4.6,0 t4.6,0 t4.6,0 t4.6,0"/>
</g>
<circle cx="786.8" cy="3.8" r="3.3" fill="none" stroke="#666" stroke-width="0.8"/><text x="786.8" y="5.6" font-size="5" text-anchor="middle" fill="#555">R</text>
</svg>
<!--/SVG-->
</body></html>
